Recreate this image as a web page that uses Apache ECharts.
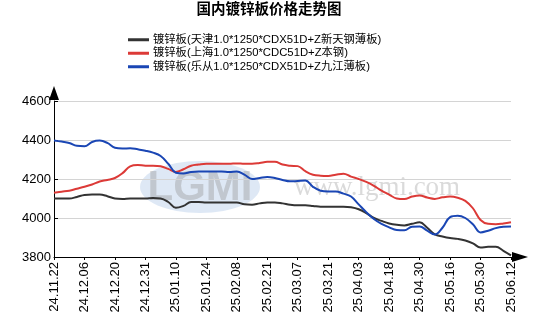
<!DOCTYPE html>
<html>
<head>
<meta charset="utf-8">
<script src="https://cdn.jsdelivr.net/npm/echarts@6/dist/echarts.min.js"></script>
<style>html,body{margin:0;padding:0;background:#fff}#c{width:538px;height:336px}</style>
</head>
<body>
<div id="c"></div>
<script>
const titleText = '国内镀锌板价格走势图';
const seriesNames = [
  '镀锌板(天津1.0*1250*CDX51D+Z新天钢薄板)',
  '镀锌板(上海1.0*1250*CDC51D+Z本钢)',
  '镀锌板(乐从1.0*1250*CDX51D+Z九江薄板)'
];
const tickLabels = ['24.11.22','24.12.06','24.12.20','24.12.31','25.01.10','25.01.24','25.02.08','25.02.21','25.03.07','25.03.21','25.04.03','25.04.18','25.04.30','25.05.16','25.05.30','25.06.12'];
const pointsPerTick = 4;
const tianjin = [4100,4100,4100,4108,4118,4120,4120,4112,4100,4098,4100,4100,4100,4102,4100,4082,
  4052,4062,4082,4082,4080,4080,4080,4080,4080,4070,4068,4075,4080,4080,4075,4068,
  4065,4065,4062,4058,4058,4058,4058,4055,4045,4025,4000,3985,3972,3965,3962,3970,
  3978,3950,3916,3905,3897,3893,3885,3870,3849,3852,3852,3832,3808];
const shanghai = [4130,4135,4140,4150,4160,4172,4187,4195,4205,4230,4265,4272,4268,4268,4265,4252,
  4236,4250,4268,4274,4278,4278,4278,4278,4280,4278,4278,4282,4288,4288,4274,4268,
  4266,4240,4222,4217,4216,4222,4227,4212,4200,4185,4165,4140,4120,4100,4097,4110,
  4116,4105,4098,4106,4110,4104,4088,4050,3990,3970,3968,3972,3978];
const lecong = [4398,4392,4385,4370,4368,4390,4397,4385,4360,4356,4358,4352,4345,4335,4318,4278,
  4232,4228,4236,4238,4238,4238,4238,4236,4238,4222,4200,4205,4210,4205,4195,4188,
  4190,4192,4160,4140,4136,4136,4125,4110,4070,4030,3995,3970,3952,3938,3937,3955,
  3957,3935,3915,3950,4005,4012,4000,3968,3926,3935,3948,3955,3957];
const colors = ['#333333', '#dc3a37', '#1a46b4'];
const FONT = "'Liberation Sans', Arial, 'Noto Sans CJK SC', sans-serif";

function toPairs(arr) { return arr.map((v, i) => [i / pointsPerTick, v]); }

const chart = echarts.init(document.getElementById('c'), null, {renderer: 'canvas'});
const mk = (name, data, color) => ({
  name, type: 'line', data: toPairs(data), smooth: 0.4, showSymbol: false, symbol: 'none',
  lineStyle: {color, width: 2}, itemStyle: {color}, z: 3
});
chart.setOption({
  animation: false,
  textStyle: {fontFamily: FONT},
  title: {text: titleText, left: 'center', top: 3, padding: 0,
    textStyle: {fontSize: 14.5, fontWeight: 'bold', color: '#000', fontFamily: FONT}},
  legend: {
    orient: 'vertical', left: 128, top: 33, padding: 0, itemGap: 0,
    icon: 'rect', itemWidth: 21, itemHeight: 3,
    textStyle: {fontSize: 11.3, color: '#000', lineHeight: 13.5, fontFamily: FONT, padding: [0,0,0,-1]},
    data: seriesNames
  },
  grid: {left: 54, right: 27, top: 101, bottom: 79, containLabel: false},
  xAxis: {
    type: 'value', min: 0, max: tickLabels.length - 1, interval: 1,
    axisLine: {lineStyle: {color: '#000', width: 1}, symbol: ['none', 'triangle'], symbolSize: [10, 16], symbolOffset: [0, 9]},
    axisTick: {show: true, length: 3, lineStyle: {color: '#000'}},
    splitLine: {show: false},
    axisLabel: {rotate: 90, fontSize: 13, color: '#000', margin: 5, fontFamily: FONT,
      formatter: v => tickLabels[Math.round(v)] || ''}
  },
  yAxis: {
    type: 'value', min: 3800, max: 4600, interval: 200,
    axisLine: {show: true, lineStyle: {color: '#000', width: 1}, symbol: ['none', 'triangle'], symbolSize: [10, 14], symbolOffset: [0, 8]},
    axisTick: {show: true, inside: true, length: 4, lineStyle: {color: '#000'}},
    splitLine: {show: true, lineStyle: {color: '#d4d4d4', width: 1}},
    axisLabel: {fontSize: 13, color: '#000', margin: 3, fontFamily: FONT, formatter: v => String(v)}
  },
  graphic: [
    {type: 'ellipse', z: 0, shape: {cx: 200, cy: 187, rx: 60, ry: 26},
      style: {fill: 'rgba(160,190,225,0.35)'}},
    {type: 'text', z: 0, x: 200, y: 188,
      style: {text: 'LGMI', fill: 'rgba(150,150,150,0.4)', font: "bold 42px 'Liberation Sans'", align: 'center', verticalAlign: 'middle'}},
    {type: 'text', z: 0, x: 377, y: 188,
      style: {text: 'www.lgmi.com', fill: 'rgba(150,150,150,0.35)', font: "27px 'Liberation Serif'", align: 'center', verticalAlign: 'middle'}}
  ],
  series: [mk(seriesNames[0], tianjin, colors[0]), mk(seriesNames[1], shanghai, colors[1]), mk(seriesNames[2], lecong, colors[2])]
});
</script>
</body>
</html>
